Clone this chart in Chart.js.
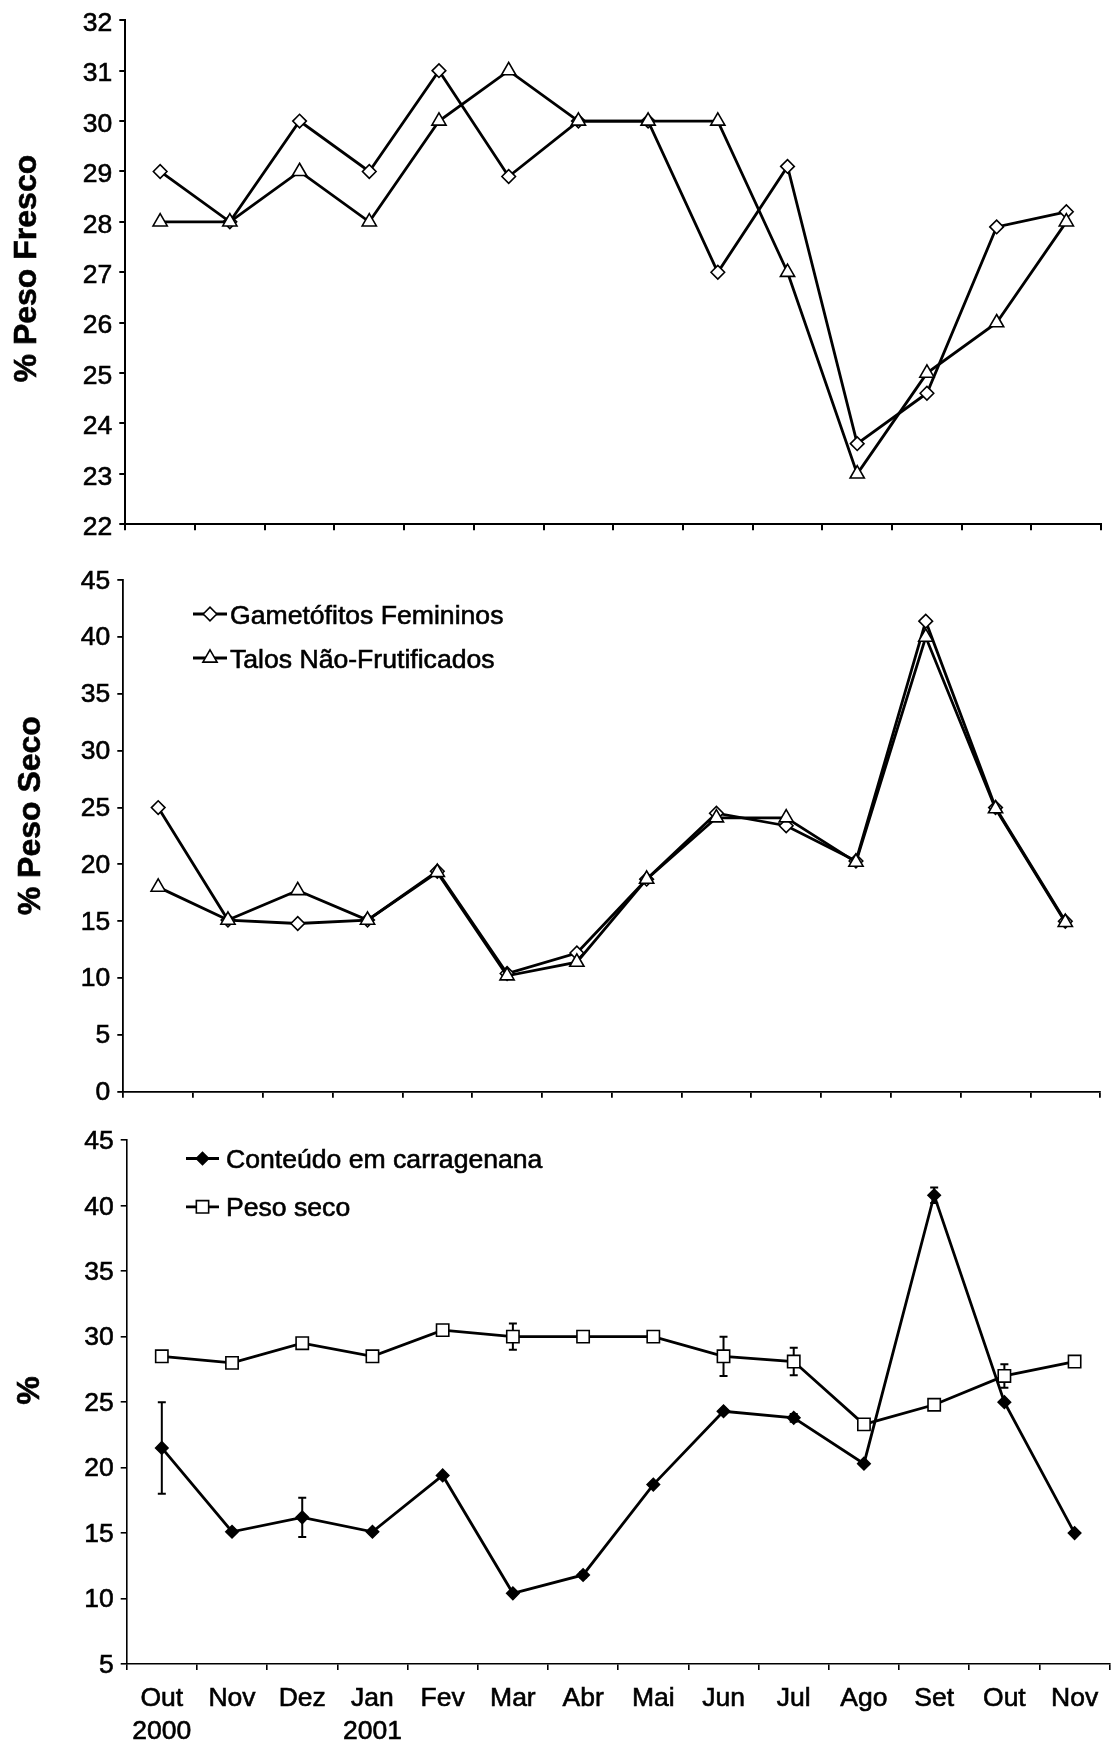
<!DOCTYPE html>
<html><head><meta charset="utf-8">
<script src="https://cdn.jsdelivr.net/npm/chart.js@4.4.0/dist/chart.umd.min.js"></script>
<style>
html,body{margin:0;padding:0;background:#fff;overflow:hidden;width:1115px;height:1744px;}
#wrap{position:relative;width:1115px;height:1744px;overflow:hidden;background:#fff;}
canvas{position:absolute;left:0;}
</style></head><body>
<div id="wrap">
<canvas id="c1" width="1111" height="560" style="top:0px"></canvas>
<canvas id="c2" width="1110" height="560" style="top:560px"></canvas>
<canvas id="c3" width="1120" height="624" style="top:1120px"></canvas>
</div>
<script>
// ---- data ----
const months = [['Out','2000'],'Nov','Dez',['Jan','2001'],'Fev','Mar','Abr','Mai','Jun','Jul','Ago','Set','Out','Nov'];
const labelGametofitos = 'Gametófitos Femininos';
const labelTalos = 'Talos Não-Frutificados';
const labelCarragenana = 'Conteúdo em carragenana';
const labelPesoSeco = 'Peso seco';
const freshGametofitos = [29,28,30,29,31,28.9,30,30,27,29.1,23.6,24.6,27.9,28.2];
const freshTalos       = [28,28,29,28,30,31,30,30,30,27,23,25,26,28];
const dryGametofitos   = [25,15.1,14.8,15.1,19.4,10.4,12.2,18.7,24.5,23.4,20.3,41.4,25,15];
const dryTalos         = [18,15.1,17.7,15.1,19.3,10.2,11.4,18.7,24.1,24.1,20.2,40,24.9,14.9];
const carragenana      = [21.5,15.1,16.2,15.1,19.4,10.4,11.8,18.7,24.3,23.8,20.3,40.8,25,15];
const carragenanaErr   = [3.5,0,1.5,0,0,0,0.2,0,0,0.3,0,0.6,0,0];
const pesoSeco         = [28.5,28,29.5,28.5,30.5,30,30,30,28.5,28.1,23.3,24.8,27,28.1];
const pesoSecoErr      = [0,0,0,0,0,1,0,0,1.5,1.05,0,0,0.9,0];
const yTitleTop = '% Peso Fresco';
const yTitleMid = '% Peso Seco';
const yTitleBot = '%';
const yRangeTop = [22, 32, 1];
const yRangeMid = [0, 45, 5];
const yRangeBot = [5, 45, 5];

// ---- helpers ----
const FONT = "'Liberation Sans', Arial, Helvetica, sans-serif";
const TXT_STROKE = 0.6;
Chart.defaults.font.family = FONT;
Chart.defaults.color = '#000';

function markerPath(ctx, style, x, y, r) {
  ctx.beginPath();
  if (style === 'rectRot') {
    ctx.moveTo(x - r, y); ctx.lineTo(x, y - r); ctx.lineTo(x + r, y); ctx.lineTo(x, y + r); ctx.closePath();
  } else if (style === 'triangle') {
    ctx.moveTo(x, y - r); ctx.lineTo(x + 0.866 * r, y + 0.5 * r); ctx.lineTo(x - 0.866 * r, y + 0.5 * r); ctx.closePath();
  } else {
    const s = Math.SQRT1_2 * r; ctx.rect(x - s, y - s, 2 * s, 2 * s);
  }
}

const lineLegend = {
  id: 'lineLegend',
  afterDraw(chart, args, o) {
    if (!o || !o.entries) return;
    const ctx = chart.ctx;
    ctx.save();
    o.entries.forEach(e => {
      const ds = chart.data.datasets[e.dataset];
      ctx.strokeStyle = '#000';
      ctx.lineWidth = ds.borderWidth;
      ctx.beginPath(); ctx.moveTo(o.x1, e.y); ctx.lineTo(o.x2, e.y); ctx.stroke();
      markerPath(ctx, ds.pointStyle, (o.x1 + o.x2) / 2, e.y, ds.pointRadius);
      ctx.fillStyle = ds.pointBackgroundColor; ctx.fill();
      ctx.lineWidth = ds.pointBorderWidth; ctx.strokeStyle = ds.pointBorderColor; ctx.stroke();
      ctx.fillStyle = '#000';
      ctx.font = o.size + 'px ' + FONT;
      ctx.textAlign = 'left'; ctx.textBaseline = 'alphabetic';
      const ty = e.y + 0.358 * o.size;
      ctx.lineWidth = TXT_STROKE; ctx.strokeStyle = '#000';
      ctx.strokeText(ds.label, o.textX, ty);
      ctx.fillText(ds.label, o.textX, ty);
    });
    ctx.restore();
  }
};

const yTitle = {
  id: 'yTitle',
  afterDraw(chart, args, o) {
    if (!o || !o.text) return;
    const ctx = chart.ctx;
    ctx.save();
    ctx.fillStyle = '#000';
    ctx.font = 'bold ' + o.size + 'px ' + FONT;
    ctx.translate(o.x, o.y);
    ctx.rotate(-Math.PI / 2);
    ctx.textAlign = 'center'; ctx.textBaseline = 'alphabetic';
    ctx.lineWidth = TXT_STROKE; ctx.strokeStyle = '#000';
    ctx.strokeText(o.text, 0, 0);
    ctx.fillText(o.text, 0, 0);
    ctx.restore();
  }
};

const errorBars = {
  id: 'errorBars',
  beforeDatasetsDraw(chart, args, o) {
    const ctx = chart.ctx, ys = chart.scales.y;
    ctx.save();
    ctx.strokeStyle = '#000'; ctx.lineWidth = (o && o.width) || 2;
    const cap = (o && o.cap) || 4;
    chart.data.datasets.forEach((ds, di) => {
      if (!ds.errors) return;
      const meta = chart.getDatasetMeta(di);
      meta.data.forEach((pt, i) => {
        const e = ds.errors[i];
        if (!e) return;
        const v = ds.data[i];
        const yT = ys.getPixelForValue(v + e), yB = ys.getPixelForValue(v - e);
        ctx.beginPath();
        ctx.moveTo(pt.x, yT); ctx.lineTo(pt.x, yB);
        ctx.moveTo(pt.x - cap, yT); ctx.lineTo(pt.x + cap, yT);
        ctx.moveTo(pt.x - cap, yB); ctx.lineTo(pt.x + cap, yB);
        ctx.stroke();
      });
    });
    ctx.restore();
  }
};

function makeChart(id, cfg) {
  const axisW = cfg.axisWidth;
  return new Chart(document.getElementById(id), {
    type: 'line',
    data: { labels: months, datasets: cfg.datasets },
    options: {
      responsive: false, animation: false, devicePixelRatio: 1,
      layout: { padding: { top: cfg.padTop, left: 0, right: 0, bottom: 0 } },
      plugins: {
        legend: { display: false }, tooltip: { enabled: false },
        lineLegend: cfg.legend || {},
        yTitle: cfg.title,
        errorBars: cfg.errorBars || {}
      },
      scales: {
        x: {
          type: 'category', offset: true,
          border: { display: true, color: '#000', width: axisW },
          grid: { display: true, offset: true, drawOnChartArea: false, drawTicks: true, tickLength: 6, color: '#000', lineWidth: axisW },
          ticks: { display: cfg.showX, autoSkip: false, maxRotation: 0, minRotation: 0, padding: 12.5,
                   font: { size: 26.5, lineHeight: 1.23 }, color: '#000',
                   textStrokeColor: '#000', textStrokeWidth: TXT_STROKE },
          afterFit: s => { s.height = cfg.xHeight; }
        },
        y: {
          min: cfg.yRange[0], max: cfg.yRange[1],
          border: { display: true, color: '#000', width: axisW },
          grid: { display: true, drawOnChartArea: false, drawTicks: true, tickLength: 6, color: '#000', lineWidth: axisW },
          ticks: { stepSize: cfg.yRange[2], padding: 7, labelOffset: cfg.labelOffset, font: { size: 26.5, lineHeight: 1 }, color: '#000',
                   textStrokeColor: '#000', textStrokeWidth: TXT_STROKE },
          afterFit: s => { s.width = cfg.yWidth; }
        }
      }
    },
    plugins: [lineLegend, yTitle, errorBars]
  });
}

function ds(label, data, style, r, fill, order, extra) {
  return Object.assign({
    label, data, order, clip: false,
    borderColor: '#000', borderWidth: 2.8, tension: 0, fill: false,
    pointStyle: style, pointRadius: r, pointHoverRadius: r,
    pointBackgroundColor: fill, pointBorderColor: '#000', pointBorderWidth: 1.6
  }, extra || {});
}

makeChart('c1', {
  yRange: yRangeTop, padTop: 15.3, xHeight: 35.7, yWidth: 125.3, axisWidth: 2, showX: false, labelOffset: 3.5,
  title: { text: yTitleTop, x: 36, y: 268.6, size: 32 },
  datasets: [
    ds(labelGametofitos, freshGametofitos, 'rectRot', 6.8, '#fff', 1),
    ds(labelTalos, freshTalos, 'triangle', 8.2, '#fff', 0)
  ]
});

makeChart('c2', {
  yRange: yRangeMid, padTop: 18.7, xHeight: 28.3, yWidth: 123.3, axisWidth: 1.8, showX: false, labelOffset: 1,
  title: { text: yTitleMid, x: 40, y: 255.7, size: 32 },
  legend: { x1: 193, x2: 227, textX: 230, size: 26.6, entries: [ { dataset: 0, y: 54 }, { dataset: 1, y: 98 } ] },
  datasets: [
    ds(labelGametofitos, dryGametofitos, 'rectRot', 6.8, '#fff', 1),
    ds(labelTalos, dryTalos, 'triangle', 8.2, '#fff', 0)
  ]
});

makeChart('c3', {
  yRange: yRangeBot, padTop: 16, xHeight: 80, yWidth: 126.7, axisWidth: 1.6, showX: true, labelOffset: 1.5,
  title: { text: yTitleBot, x: 39, y: 270.6, size: 32 },
  legend: { x1: 186, x2: 219, textX: 226, size: 26.6, entries: [ { dataset: 0, y: 38.5 }, { dataset: 1, y: 86.8 } ] },
  errorBars: { cap: 4, width: 2 },
  datasets: [
    ds(labelCarragenana, carragenana, 'rectRot', 6.2, '#000', 0, { errors: carragenanaErr }),
    ds(labelPesoSeco, pesoSeco, 'rect', 8.7, '#fff', 1, { errors: pesoSecoErr })
  ]
});
</script>
</body></html>
